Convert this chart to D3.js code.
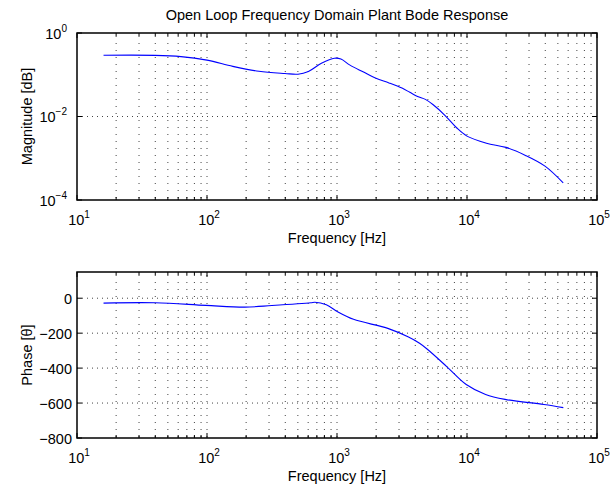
<!DOCTYPE html>
<html>
<head>
<meta charset="utf-8">
<script src="https://cdn.jsdelivr.net/npm/d3@7"></script>
<style>
  html, body { margin: 0; padding: 0; background: #fff; }
  svg { display: block; font-family: "Liberation Sans", Arial, Helvetica, sans-serif; }
</style>
</head>
<body>
<svg id="chart" width="610" height="489"></svg>
<script>
// Magnitude response samples (frequency in Hz, linear magnitude)
const magFreq = [16, 39.8, 63, 100, 158, 251, 398, 501, 603, 759, 955, 1072, 1259, 1585, 1995, 2512, 3162, 3631, 4169, 4786, 5495, 6761, 8318, 10000, 14125, 19953, 28184, 39811, 54954];
const magValue = [0.2931, 0.2917, 0.2723, 0.2239, 0.1585, 0.1211, 0.1072, 0.1030, 0.1202, 0.1884, 0.2483, 0.2371, 0.1698, 0.1175, 0.0822, 0.0638, 0.0479, 0.0380, 0.0302, 0.0257, 0.0191, 0.0107, 0.00537, 0.00339, 0.00229, 0.00182, 0.00117, 0.000646, 0.000257];

// Phase response samples (frequency in Hz, degrees)
const phaseFreq = [16, 40, 98, 195, 316, 630, 676, 828, 1019, 1340, 2489, 3516, 4315, 4955, 6982, 9863, 13900, 19630, 39080, 55080];
const phaseValue = [-28, -26, -41, -51, -42, -26, -23, -38, -79, -121, -174, -221, -258, -292, -391, -494, -551, -579, -608, -626];

// Axis ticks
const freqMajorTicks = [1e1, 1e2, 1e3, 1e4, 1e5];
const magMajorTicks = [1e-4, 1e-2, 1e0];
const phaseTicks = [-800, -600, -400, -200, 0];

const titleText = "Open Loop Frequency Domain Plant Bode Response";
const xLabelText = "Frequency [Hz]";
const magLabelText = "Magnitude [dB]";
const phaseLabelText = "Phase [\u03B8]";

const svg = d3.select("#chart");
const left = 77, right = 597;
const topBox = {y0: 33, y1: 200};
const botBox = {y0: 272, y1: 438};
const majorLen = 5, minorLen = 3;

// minor frequency positions 2..9 x 10^k inside the range
const freqMinorTicks = [];
for (let k = 1; k < 5; k++) for (let m = 2; m <= 9; m++) freqMinorTicks.push(m * Math.pow(10, k));

const x = d3.scaleLog().domain([1e1, 1e5]).range([left, right]);
const yMag = d3.scaleLog().domain([1e-4, 1e0]).range([topBox.y1, topBox.y0]);
const yPh = d3.scaleLinear().domain([-800, 150]).range([botBox.y1, botBox.y0]);

function supLabel(sel, exp) {
  sel.text("10");
  sel.append("tspan").attr("dy", -7).attr("font-size", 10).text(exp);
}

function drawPanel(box, y, yTicks, yFmt, xs, ys, yLabel, labelEnd) {
  const g = svg.append("g");
  // vertical grid at every major and minor frequency
  const gridX = freqMajorTicks.concat(freqMinorTicks).filter(f => f > 1e1 && f < 1e5);
  g.selectAll(".vgrid").data(gridX).join("line")
    .attr("x1", d => x(d)).attr("x2", d => x(d))
    .attr("y1", box.y0).attr("y2", box.y1)
    .attr("stroke", "#444").attr("stroke-width", 1)
    .attr("stroke-dasharray", "1,6").attr("stroke-dashoffset", -3);
  // horizontal grid at labeled y ticks
  const inner = yTicks.filter(t => y(t) > box.y0 + 1 && y(t) < box.y1 - 1);
  g.selectAll(".hgrid").data(inner).join("line")
    .attr("x1", left).attr("x2", right)
    .attr("y1", d => y(d)).attr("y2", d => y(d))
    .attr("stroke", "#444").attr("stroke-width", 1)
    .attr("stroke-dasharray", "1,4");

  // data curve
  const line = d3.line().x(d => x(d[0])).y(d => y(d[1])).curve(d3.curveCatmullRom.alpha(0.5));
  g.append("path").datum(d3.zip(xs, ys))
    .attr("d", line).attr("fill", "none")
    .attr("stroke", "#0000ff").attr("stroke-width", 1.1);

  // inward ticks on all four sides
  const tk = g.append("g").attr("stroke", "#000").attr("stroke-width", 1);
  freqMajorTicks.concat(freqMinorTicks).forEach(f => {
    const len = freqMajorTicks.includes(f) ? majorLen : minorLen;
    tk.append("line").attr("x1", x(f)).attr("x2", x(f)).attr("y1", box.y1).attr("y2", box.y1 - len);
    tk.append("line").attr("x1", x(f)).attr("x2", x(f)).attr("y1", box.y0).attr("y2", box.y0 + len);
  });
  yTicks.forEach(t => {
    tk.append("line").attr("x1", left).attr("x2", left + majorLen).attr("y1", y(t)).attr("y2", y(t));
    tk.append("line").attr("x1", right).attr("x2", right - majorLen).attr("y1", y(t)).attr("y2", y(t));
  });

  // frame
  g.append("rect").attr("x", left).attr("y", box.y0)
    .attr("width", right - left).attr("height", box.y1 - box.y0)
    .attr("fill", "none").attr("stroke", "#000").attr("stroke-width", 1.5);

  // x tick labels
  freqMajorTicks.forEach(f => {
    const t = g.append("text").attr("x", x(f) + 2).attr("y", box.y1 + 25)
      .attr("text-anchor", "middle").attr("font-size", 14.5).attr("fill", "#000");
    supLabel(t, Math.round(Math.log10(f)));
  });
  // y tick labels
  yTicks.forEach(v => {
    const t = g.append("text").attr("x", labelEnd).attr("y", y(v) + 5.5)
      .attr("text-anchor", "end").attr("font-size", 14.5).attr("fill", "#000");
    yFmt(t, v);
  });

  // axis labels
  g.append("text").attr("x", (left + right) / 2).attr("y", box.y1 + 43)
    .attr("text-anchor", "middle").attr("font-size", 14.5).text(xLabelText);
  g.append("text")
    .attr("transform", `translate(32,${(box.y0 + box.y1) / 2}) rotate(-90)`)
    .attr("text-anchor", "middle").attr("font-size", 14.5).text(yLabel);
}

drawPanel(topBox, yMag, magMajorTicks,
  (t, v) => supLabel(t, Math.round(Math.log10(v)).toString().replace("-", "\u2212")),
  magFreq, magValue, magLabelText, 67);
drawPanel(botBox, yPh, phaseTicks,
  (t, v) => t.text(v < 0 ? "\u2212" + Math.abs(v) : String(v)),
  phaseFreq, phaseValue, phaseLabelText, 72);

svg.append("text").attr("x", (left + right) / 2).attr("y", 20)
  .attr("text-anchor", "middle").attr("font-size", 14.5).text(titleText);
</script>
</body>
</html>
